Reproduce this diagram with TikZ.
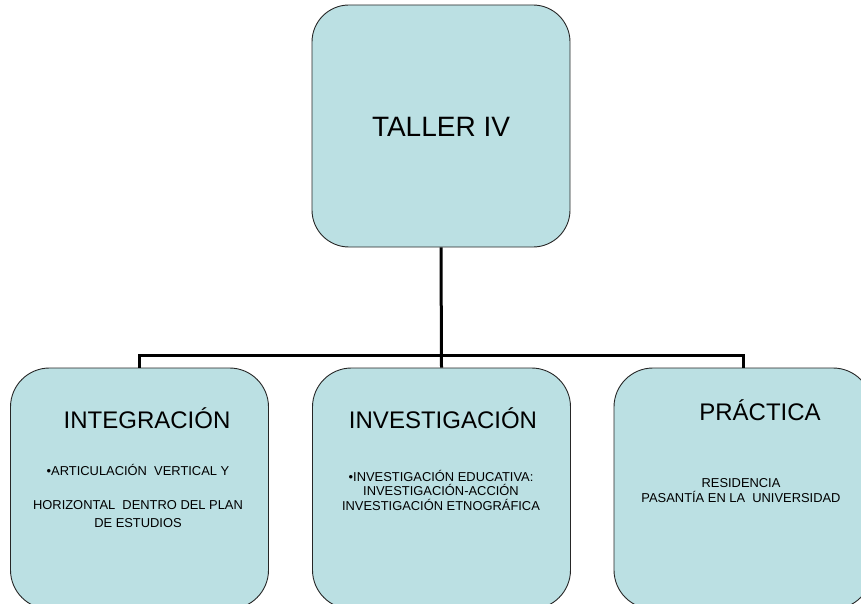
\documentclass[tikz,border=0pt]{standalone}
\usepackage{fontspec}
\setmainfont{Liberation Sans}
\definecolor{boxfill}{HTML}{BBE0E3}
\begin{document}
\begin{tikzpicture}[x=1pt,y=-1pt,
  box/.style={draw=black!85,line width=0.9pt,fill=boxfill,rounded corners=39pt,
    minimum width=258pt,minimum height=241pt,inner sep=0pt},
  conn/.style={line width=3pt,black},
  big/.style={anchor=base,inner sep=0pt,font=\fontsize{24}{28}\selectfont},
  small/.style={anchor=base,inner sep=0pt,align=center,font=\fontsize{12.9}{14.3}\selectfont}]
\useasboundingbox (0,0) rectangle (861,604);
\clip (0,0) rectangle (861,604);
% boxes
\node[box,minimum height=242pt,rounded corners=37pt] (top) at (441,126) {};
\node[box] (a) at (139.5,488.5) {};
\node[box] (b) at (441.5,488.5) {};
\node[box] (c) at (743,488.5) {};
% connectors
\coordinate (j) at (441.5,355);
\draw[conn] (top.south) -- (b.north);
\draw[conn] (a.north) |- (j) -| (c.north);
% texts (base anchor = baseline of the last line)
\node[anchor=base,inner sep=0pt,font=\fontsize{28}{32}\selectfont] (t0) at (441,137) {TALLER IV};
\node[big] (t1) at (147,428) {INTEGRACIÓN};
\node[small] (s1a) at (138,475.5) {•ARTICULACIÓN~ VERTICAL Y};
\node[small,font=\fontsize{12.9}{18}\selectfont] (s1b) at (138,527) {HORIZONTAL~ DENTRO DEL PLAN\\DE ESTUDIOS};
\node[big] (t2) at (443,428) {INVESTIGACIÓN};
\node[small] (s2) at (441,510) {•INVESTIGACIÓN EDUCATIVA:\\INVESTIGACIÓN-ACCIÓN\\INVESTIGACIÓN ETNOGRÁFICA};
\node[big] (t3) at (760,420) {PRÁCTICA};
\node[small,font=\fontsize{12.9}{15}\selectfont] (s3) at (741,502) {RESIDENCIA\\PASANTÍA EN LA~ UNIVERSIDAD};
\end{tikzpicture}
\end{document}
